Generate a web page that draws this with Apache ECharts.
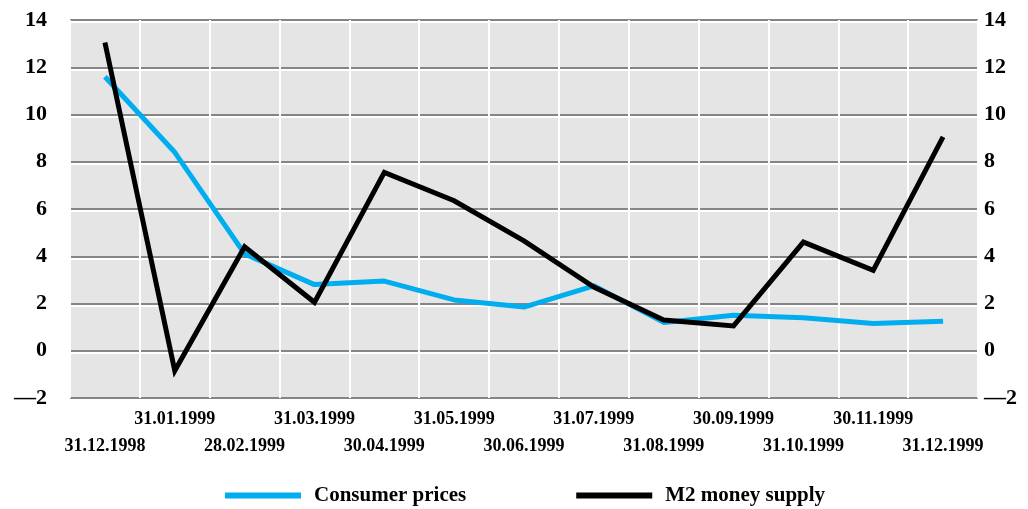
<!DOCTYPE html>
<html>
<head>
<meta charset="utf-8">
<script src="https://cdn.jsdelivr.net/npm/echarts@6/dist/echarts.min.js"></script>
<style>
  html, body { margin: 0; padding: 0; background: #fff; }
  #chart { width: 1028px; height: 509px; }
</style>
</head>
<body>
<div id="chart"></div>
<script>
const categories = [
  '31.12.1998', '31.01.1999', '28.02.1999', '31.03.1999', '30.04.1999',
  '31.05.1999', '30.06.1999', '31.07.1999', '31.08.1999', '30.09.1999',
  '31.10.1999', '30.11.1999', '31.12.1999'
];
const consumerPrices = [11.6, 8.4, 4.1, 2.8, 2.95, 2.15, 1.85, 2.75, 1.2, 1.5, 1.4, 1.15, 1.25];
const m2Supply = [13.05, -0.85, 4.4, 2.05, 7.55, 6.35, 4.65, 2.7, 1.3, 1.05, 4.6, 3.4, 9.05];
const yTicks = { min: -2, max: 14, interval: 2 };

const FONT = '"Liberation Serif", "DejaVu Serif", serif';

const chart = echarts.init(document.getElementById('chart'));

// 数值格式：负号用长破折号
const yFmt = v => (v < 0 ? '\u2014' + Math.abs(v) : String(v));

const yLabel = {
  color: '#000',
  fontFamily: FONT,
  fontWeight: 'bold',
  fontSize: 22,
  formatter: yFmt
};

chart.setOption({
  animation: false,
  grid: {
    left: 70,
    right: 50,
    top: 20,
    bottom: 111,
    show: true,
    backgroundColor: '#e5e5e5',
    borderWidth: 0
  },
  legend: {
    left: 220,
    top: 480,
    itemWidth: 76,
    itemHeight: 6,
    itemGap: 110,
    icon: 'rect',
    textStyle: {
      color: '#000',
      fontFamily: FONT,
      fontWeight: 'bold',
      fontSize: 21,
      padding: [0, 0, 0, 8]
    },
    data: ['Consumer prices', 'M2 money supply']
  },
  xAxis: {
    type: 'category',
    data: categories,
    boundaryGap: true,
    axisLine: { show: false },
    axisTick: { show: false },
    splitLine: {
      show: true,
      interval: 0,
      lineStyle: { color: '#ffffff', width: 2 }
    },
    axisLabel: {
      interval: 0,
      margin: 8,
      color: '#000',
      fontFamily: FONT,
      fontWeight: 'bold',
      fontSize: 18,
      lineHeight: 27,
      // 标签上下交错
      formatter: (v, i) => (i % 2 === 0 ? '\n' + v : v)
    }
  },
  yAxis: [
    {
      type: 'value',
      position: 'left',
      min: yTicks.min,
      max: yTicks.max,
      interval: yTicks.interval,
      axisLine: { show: false },
      axisTick: { show: false },
      axisLabel: Object.assign({ margin: 23 }, yLabel),
      splitLine: {
        show: true,
        lineStyle: {
          color: '#858585',
          width: 2,
          shadowColor: '#ffffff',
          shadowOffsetY: 2,
          shadowBlur: 0
        }
      }
    },
    {
      type: 'value',
      position: 'right',
      min: yTicks.min,
      max: yTicks.max,
      interval: yTicks.interval,
      axisLine: { show: false },
      axisTick: { show: false },
      axisLabel: Object.assign({ margin: 6 }, yLabel),
      splitLine: { show: false }
    }
  ],
  series: [
    {
      name: 'Consumer prices',
      type: 'line',
      data: consumerPrices,
      showSymbol: false,
      symbol: 'none',
      itemStyle: { color: '#00aeef' },
      lineStyle: { color: '#00aeef', width: 5, join: 'round' }
    },
    {
      name: 'M2 money supply',
      type: 'line',
      data: m2Supply,
      showSymbol: false,
      symbol: 'none',
      itemStyle: { color: '#000' },
      lineStyle: { color: '#000', width: 5, join: 'miter' }
    }
  ]
});

window.addEventListener('resize', () => chart.resize());
</script>
</body>
</html>
